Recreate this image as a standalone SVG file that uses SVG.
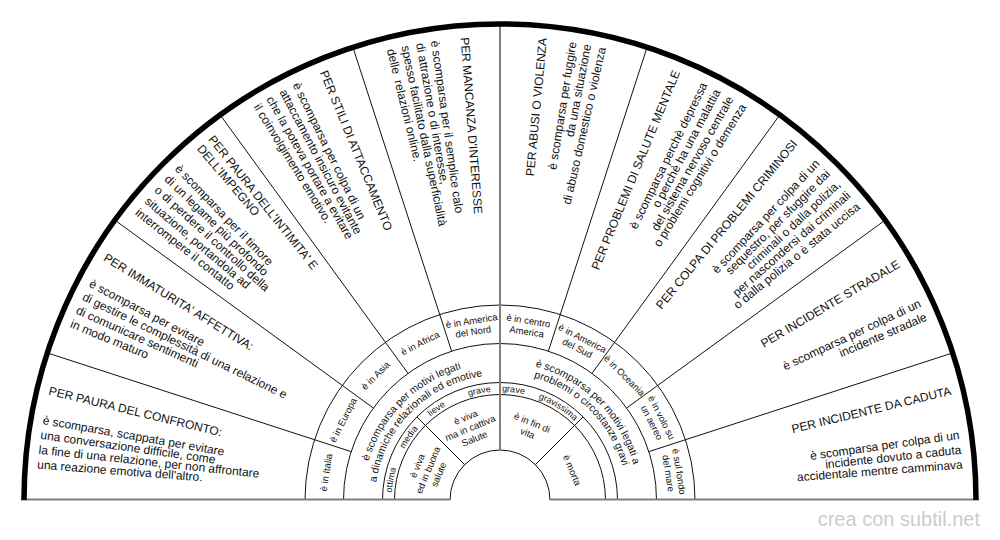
<svg xmlns="http://www.w3.org/2000/svg" width="1000" height="540" viewBox="0 0 1000 540">
<style>
text{font-family:"Liberation Sans",Arial,sans-serif;fill:#111}
.o{font-size:12px}
.L{text-anchor:start}
.R{text-anchor:end}
.s{font-size:9.5px;text-anchor:middle}
.m{font-size:10.5px;text-anchor:middle}
.v{font-size:9px;text-anchor:middle}
.ln{stroke:#111;stroke-width:1;fill:none}
.gr{stroke:#808080;stroke-width:2;fill:none}
.wm{font-size:20px;fill:#cccccc;text-anchor:end}
</style>
<defs>
<path id="pL1" d="M363 500 A137 137 0 0 1 637 500"/>
<path id="pL2" d="M375 500 A125 125 0 0 1 625 500"/>
<path id="pR1" d="M362 500 A138 138 0 0 1 638 500"/>
<path id="pR2" d="M373 500 A127 127 0 0 1 627 500"/>
<path id="pS" d="M391.5 500 A108.5 108.5 0 0 1 608.5 500"/>
</defs>
<rect width="1000" height="540" fill="#fff"/>
<g id="connectors">
<path class="ln" d="M450 500 A50 50 0 0 1 550 500"/>
<path class="ln" d="M394.5 500 A105.5 105.5 0 0 1 605.5 500"/>
<path class="ln" d="M382.5 500 A117.5 117.5 0 0 1 617.5 500"/>
<path class="ln" d="M343.5 500 A156.5 156.5 0 0 1 656.5 500"/>
<path class="ln" d="M305 500 A195 195 0 0 1 695 500"/>
<line class="ln" x1="648.84" y1="451.64" x2="952.70" y2="352.91"/>
<line class="ln" x1="626.61" y1="408.01" x2="885.09" y2="220.21"/>
<line class="ln" x1="591.99" y1="373.39" x2="779.79" y2="114.91"/>
<line class="ln" x1="548.36" y1="351.16" x2="647.09" y2="47.30"/>
<line class="ln" x1="451.64" y1="351.16" x2="352.91" y2="47.30"/>
<line class="ln" x1="408.01" y1="373.39" x2="220.21" y2="114.91"/>
<line class="ln" x1="373.39" y1="408.01" x2="114.91" y2="220.21"/>
<line class="ln" x1="351.16" y1="451.64" x2="47.30" y2="352.91"/>
<line class="ln" x1="535.36" y1="464.64" x2="583.08" y2="416.92"/>
<line class="ln" x1="464.64" y1="464.64" x2="416.92" y2="416.92"/>
<line class="gr" x1="500" y1="450" x2="500" y2="24"/>
<line class="gr" x1="21" y1="499.5" x2="450" y2="499.5"/>
<line class="gr" x1="550" y1="499.5" x2="979" y2="499.5"/>
<path d="M24 500 A476 476 0 0 1 976 500" fill="none" stroke="#000" stroke-width="5.5"/>
</g>
<g transform="translate(500,500)">
<g id="slice-confronto" class="o L">
<text transform="rotate(13.625)" x="-464" y="4">PER PAURA DEL CONFRONTO:</text>
<text transform="rotate(9.925)" x="-464" y="4">è scomparsa, scappata per evitare</text>
<text transform="rotate(8.075)" x="-464" y="4">una conversazione difficile, come</text>
<text transform="rotate(6.225)" x="-464" y="4">la fine di una relazione, per non affrontare</text>
<text transform="rotate(4.375)" x="-464" y="4">una reazione emotiva dell'altro.</text>
</g>
<g id="slice-immaturita" class="o L">
<text transform="rotate(31.625)" x="-464" y="4">PER IMMATURITA' AFFETTIVA:</text>
<text transform="rotate(27.925)" x="-464" y="4">è scomparsa per evitare</text>
<text transform="rotate(26.075)" x="-464" y="4">di gestire le complessità di una relazione e</text>
<text transform="rotate(24.225)" x="-464" y="4">di comunicare sentimenti</text>
<text transform="rotate(22.375)" x="-464" y="4">in modo maturo</text>
</g>
<g id="slice-intimita" class="o L">
<text transform="rotate(51.475)" x="-464" y="4">PER PAURA DELL'INTIMITA' E</text>
<text transform="rotate(49.625)" x="-464" y="4">DELL'IMPEGNO</text>
<text transform="rotate(45.925)" x="-464" y="4">è scomparsa per il timore</text>
<text transform="rotate(44.075)" x="-464" y="4">di un legame più profondo</text>
<text transform="rotate(42.225)" x="-464" y="4">o di perdere il controllo della</text>
<text transform="rotate(40.375)" x="-464" y="4">situazione, portandola ad</text>
<text transform="rotate(38.525)" x="-464" y="4">interrompere il contatto</text>
</g>
<g id="slice-attaccamento" class="o L">
<text transform="rotate(67.625)" x="-464" y="4">PER STILI DI ATTACCAMENTO</text>
<text transform="rotate(63.925)" x="-464" y="4">è scomparsa per colpa di un</text>
<text transform="rotate(62.075)" x="-464" y="4">attaccamento insicuro evitante</text>
<text transform="rotate(60.225)" x="-464" y="4">che la poteva portare a evitare</text>
<text transform="rotate(58.375)" x="-464" y="4">il coinvolgimento emotivo.</text>
</g>
<g id="slice-interesse" class="o L">
<text transform="rotate(85.625)" x="-464" y="4">PER MANCANZA D'INTERESSE</text>
<text transform="rotate(81.925)" x="-464" y="4">è scomparsa per il semplice calo</text>
<text transform="rotate(80.075)" x="-464" y="4">di attrazione o di interesse,</text>
<text transform="rotate(78.225)" x="-464" y="4">spesso facilitato dalla superficialità</text>
<text transform="rotate(76.375)" x="-464" y="4" xml:space="preserve" style="white-space:pre">delle  relazioni online.</text>
</g>
<g id="slice-abusi" class="o R">
<text transform="rotate(-84.7)" x="464" y="4">PER ABUSI O VIOLENZA</text>
<text transform="rotate(-81)" x="464" y="4">è scomparsa per fuggire</text>
<text transform="rotate(-79.15)" x="464" y="4">da una situazione</text>
<text transform="rotate(-77.3)" x="464" y="4">di abuso domestico o violenza</text>
</g>
<g id="slice-salute" class="o R">
<text transform="rotate(-67.625)" x="464" y="4">PER PROBLEMI DI SALUTE MENTALE</text>
<text transform="rotate(-63.925)" x="464" y="4">è scomparsa perchè depressa</text>
<text transform="rotate(-62.075)" x="464" y="4">o perchè ha una malattia</text>
<text transform="rotate(-60.225)" x="464" y="4">del sistema nervoso centrale</text>
<text transform="rotate(-58.375)" x="464" y="4">o problemi cognitivi o demenza</text>
</g>
<g id="slice-criminosi" class="o R">
<text transform="rotate(-50.55)" x="464" y="4">PER COLPA DI PROBLEMI CRIMINOSI</text>
<text transform="rotate(-46.85)" x="464" y="4">è scomparsa per colpa di un</text>
<text transform="rotate(-45)" x="464" y="4">sequestro, per sfuggire dai</text>
<text transform="rotate(-43.15)" x="464" y="4">criminali o dalla polizia,</text>
<text transform="rotate(-41.3)" x="464" y="4">per nascondersi dai criminali</text>
<text transform="rotate(-39.45)" x="464" y="4">o dalla polizia o è stata uccisa</text>
</g>
<g id="slice-stradale" class="o R">
<text transform="rotate(-30.7)" x="464" y="4">PER INCIDENTE STRADALE</text>
<text transform="rotate(-25.15)" x="464" y="4">è scomparsa per colpa di un</text>
<text transform="rotate(-23.3)" x="464" y="4">incidente stradale</text>
</g>
<g id="slice-caduta" class="o R">
<text transform="rotate(-13.625)" x="464" y="4">PER INCIDENTE DA CADUTA</text>
<text transform="rotate(-8.075)" x="464" y="4">è scomparsa per colpa di un</text>
<text transform="rotate(-6.225)" x="464" y="4">incidente dovuto a caduta</text>
<text transform="rotate(-4.375)" x="464" y="4">accidentale mentre camminava</text>
</g>
</g>
<g id="loc-italia"><text class="s" transform="translate(326.17,472.47) rotate(-81)" y="3.3">è in Italia</text></g>
<g id="loc-europa"><text class="s" transform="translate(343.18,420.10) rotate(-63)" y="3.3">è in Europa</text></g>
<g id="loc-asia"><text class="s" transform="translate(375.55,375.55) rotate(-45)" y="3.3">è in Asia</text></g>
<g id="loc-africa"><text class="s" transform="translate(420.10,343.18) rotate(-27)" y="3.3">è in Africa</text></g>
<g id="loc-nord"><text class="s" transform="translate(472.47,326.17) rotate(-9)"><tspan x="0" y="-2.2">è in America</tspan><tspan x="0" y="8.8">del Nord</tspan></text></g>
<g id="loc-centro"><text class="s" transform="translate(527.53,326.17) rotate(9)"><tspan x="0" y="-2.2">è in centro</tspan><tspan x="0" y="8.8">America</tspan></text></g>
<g id="loc-sud"><text class="s" transform="translate(579.90,343.18) rotate(27)"><tspan x="0" y="-2.2">è in America</tspan><tspan x="0" y="8.8">del Sud</tspan></text></g>
<g id="loc-oceania"><text class="s" transform="translate(624.45,375.55) rotate(45)" y="3.3">è in Oceania</text></g>
<g id="loc-volo"><text class="s" transform="translate(656.82,420.10) rotate(63)"><tspan x="0" y="-2.2">è in volo su</tspan><tspan x="0" y="8.8">un aereo</tspan></text></g>
<g id="loc-mare"><text class="s" transform="translate(673.83,472.47) rotate(81)"><tspan x="0" y="-2.2">è sul fondo</tspan><tspan x="0" y="8.8">del mare</tspan></text></g>
<g id="motivi-relazionali">
<text class="m"><textPath href="#pL1" startOffset="25%">è scomparsa per motivi legati</textPath></text>
<text class="m"><textPath href="#pL2" startOffset="25%">a dinamiche relazionali ed emotive</textPath></text>
</g>
<g id="motivi-gravi">
<text class="m"><textPath href="#pR1" startOffset="75%">è scomparsa per motivi legati a</textPath></text>
<text class="m"><textPath href="#pR2" startOffset="75%">problemi o circostanze gravi</textPath></text>
</g>
<g id="severity">
<text class="v"><textPath href="#pS" startOffset="5.8%">ottima</textPath></text>
<text class="v"><textPath href="#pS" startOffset="19.2%">media</textPath></text>
<text class="v"><textPath href="#pS" startOffset="30.6%">lieve</textPath></text>
<text class="v"><textPath href="#pS" startOffset="44%">grave</textPath></text>
<text class="v"><textPath href="#pS" startOffset="53.9%">grave</textPath></text>
<text class="v"><textPath href="#pS" startOffset="67.8%">gravissima</textPath></text>
</g>
<g id="stato-buona"><text class="s" transform="translate(427.94,470.15) rotate(-67.5)"><tspan x="0" y="-8.2">è viva</tspan><tspan x="0" y="3.3">ed in buona</tspan><tspan x="0" y="14.8">salute</tspan></text></g>
<g id="stato-cattiva"><text class="s" transform="translate(470.15,427.94) rotate(-22.5)"><tspan x="0" y="-8.2">è viva</tspan><tspan x="0" y="3.3">ma in cattiva</tspan><tspan x="0" y="14.8">Salute</tspan></text></g>
<g id="stato-fin"><text class="s" transform="translate(529.85,427.94) rotate(22.5)"><tspan x="0" y="-2.45">è in fin di</tspan><tspan x="0" y="9.05">vita</tspan></text></g>
<g id="stato-morta"><text class="s" transform="translate(572.06,470.15) rotate(67.5)" y="3.3">è morta</text></g>
<text class="wm" x="980" y="526">crea con subtil.net</text>
</svg>
